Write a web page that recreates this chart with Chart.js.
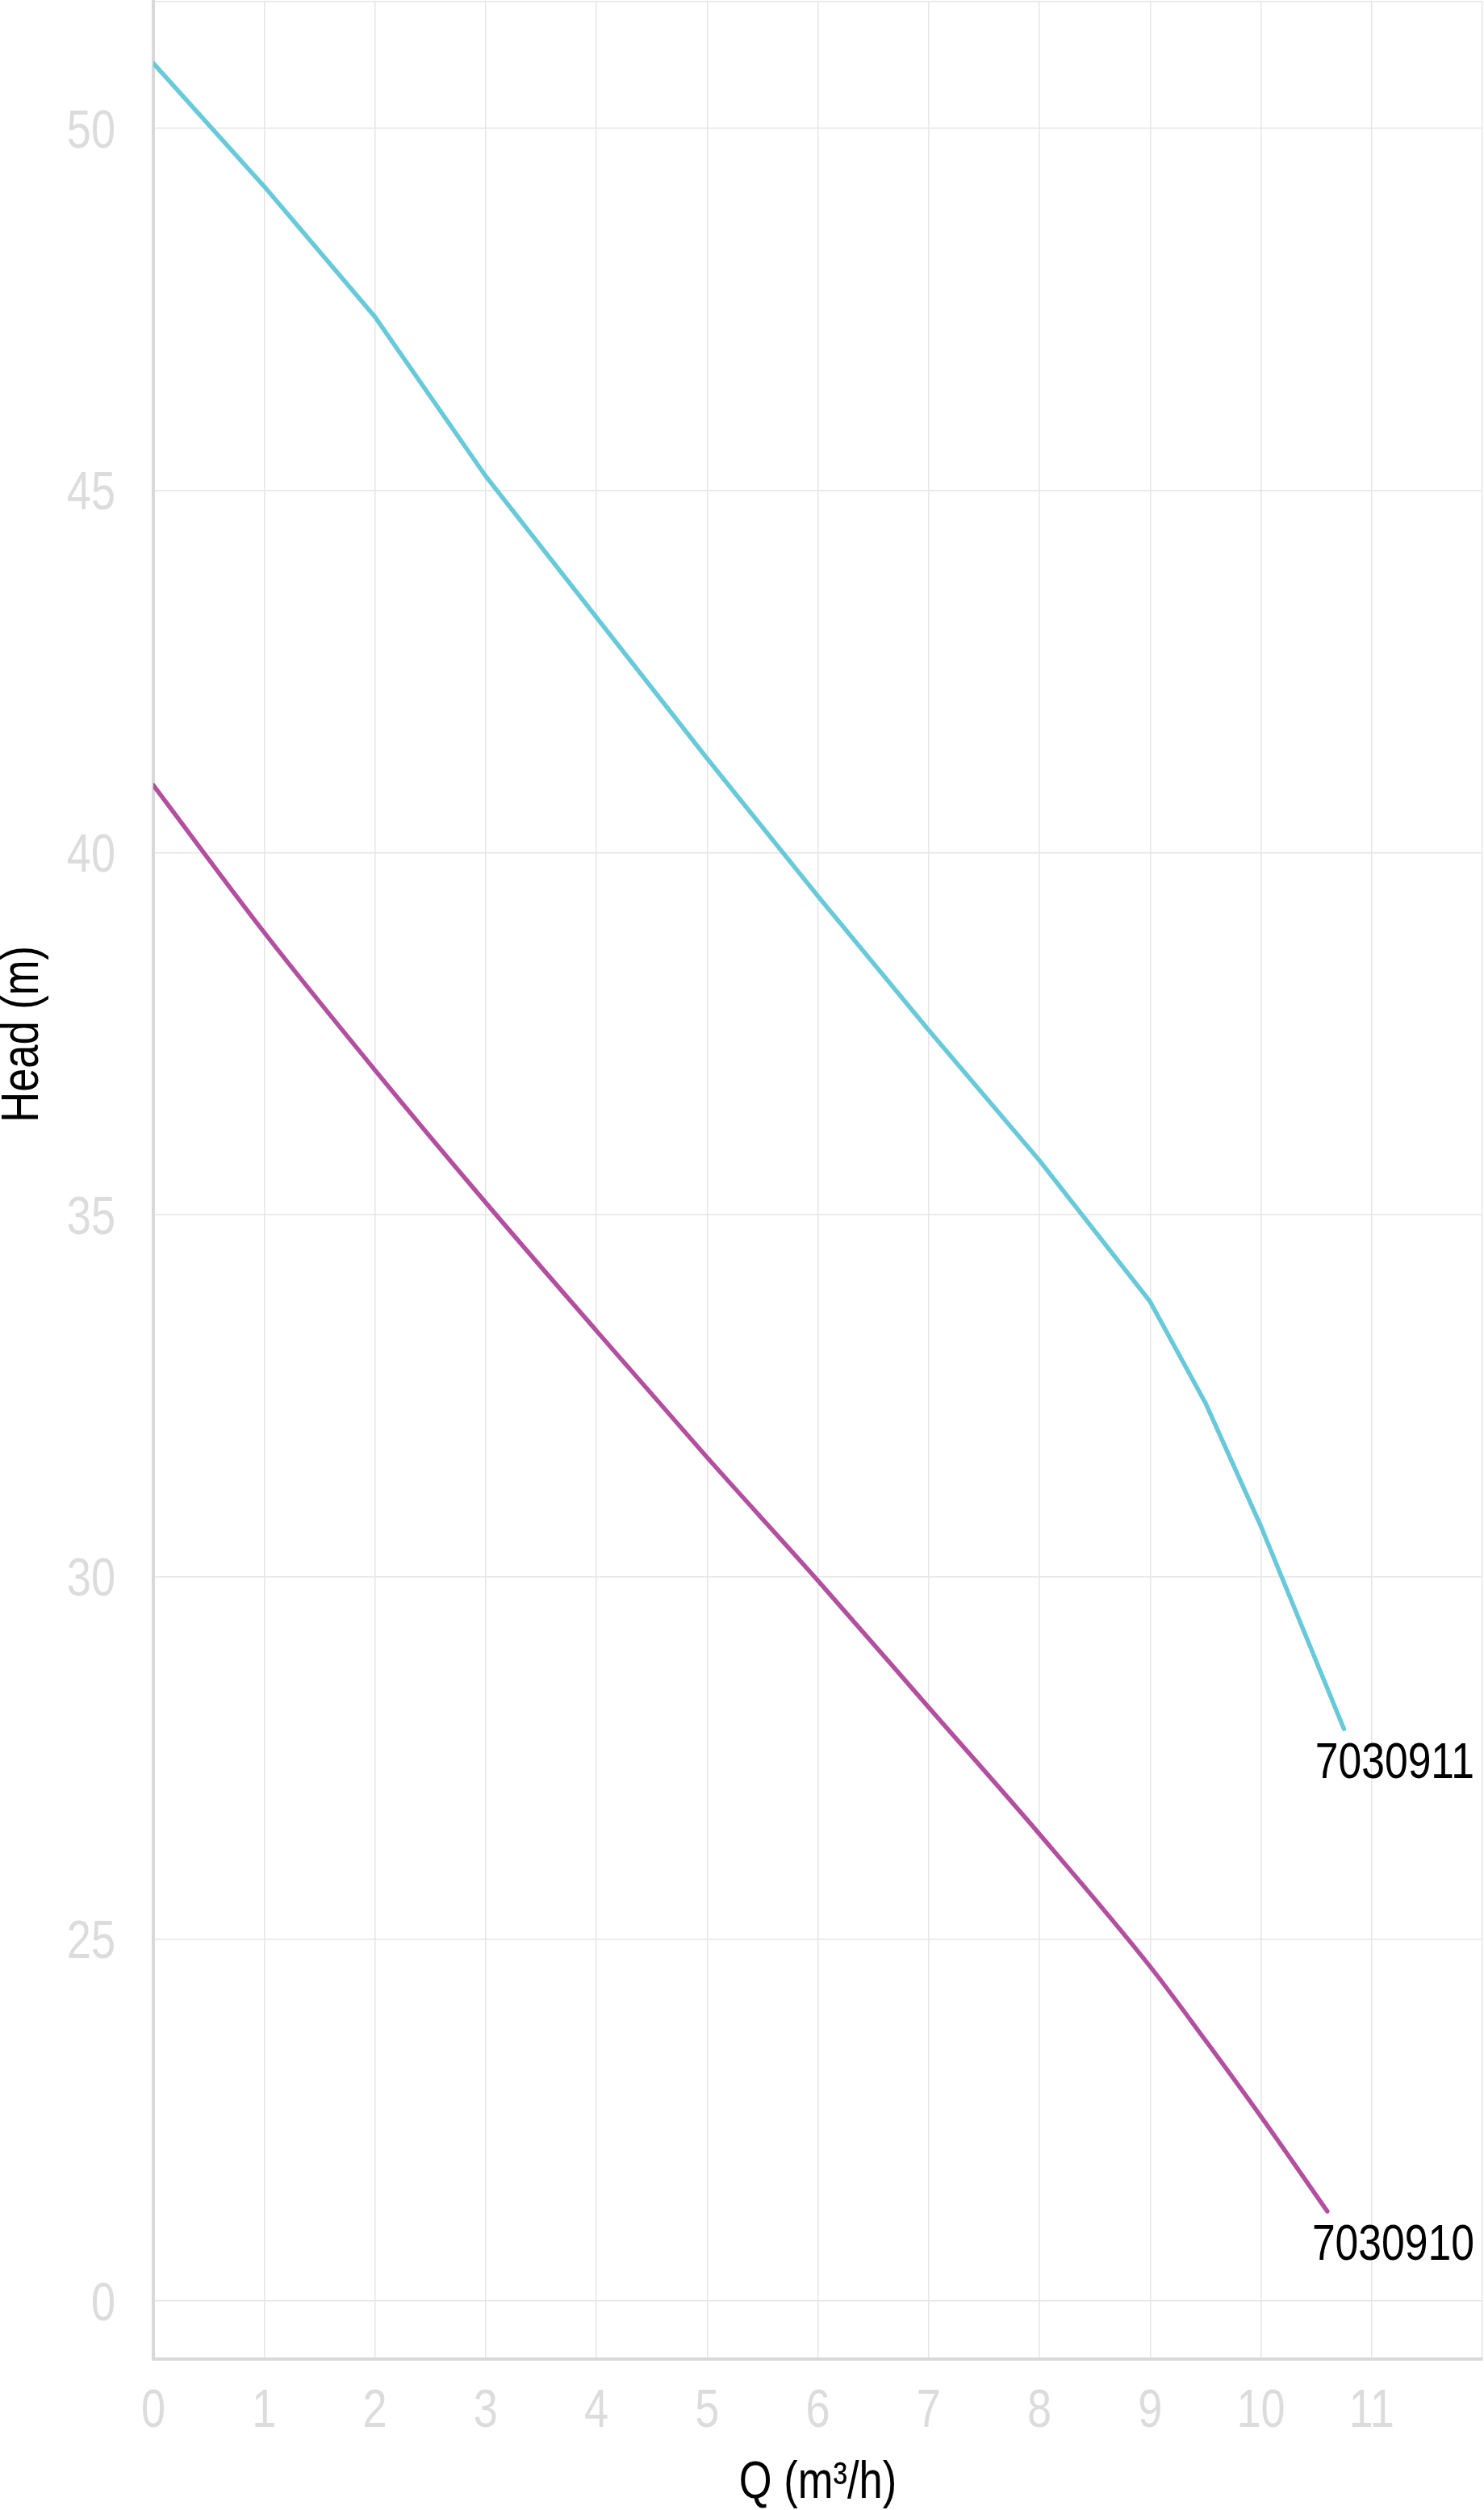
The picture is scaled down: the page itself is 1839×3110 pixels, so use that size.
<!DOCTYPE html>
<html>
<head>
<meta charset="utf-8">
<script src="https://cdn.jsdelivr.net/npm/chart.js@4.4.1/dist/chart.umd.min.js"></script>
<style>
  html, body { margin: 0; padding: 0; background: #fff; }
  #wrap { width: 1839px; height: 3110px; }
</style>
</head>
<body>
<div id="wrap"><canvas id="pump-chart" width="1839" height="3110"></canvas></div>
<script>
// flow Q (m3/h) and head (m)
const q911 = [0, 1, 2, 3, 4, 5, 6, 7, 8, 9, 9.5, 10, 10.75];
const head911 = [50.9, 49.2, 47.4, 45.2, 43.25, 41.3, 39.4, 37.55, 35.75, 33.8, 32.4, 30.7, 27.9];

const q910 = [0, 1, 2, 3, 4, 5, 6, 7, 8, 9, 9.5, 10, 10.6];
const head910 = [40.93, 38.9, 37.0, 35.17, 33.4, 31.65, 29.95, 28.2, 26.45, 24.62, 23.6, 22.55, 21.24];

const seriesNames = ['7030911', '7030910'];

// broken head axis: the lowest gridline is labelled 0
const yTickValues = [20, 25, 30, 35, 40, 45, 50];
const yTickLabels = ['0', '25', '30', '35', '40', '45', '50'];
const xTickLabels = ['0', '1', '2', '3', '4', '5', '6', '7', '8', '9', '10', '11'];
const xMax = 12;
const yMin = 19.2;
const yMax = 51.75;

(()=>{
    const ctx = document.getElementById('pump-chart');
    const FONT = "'Liberation Sans', Arial, sans-serif";
    const tickGrey = '#dcdcdc';
    const NARROW = 0.82; // arial narrow look

    // text squeezed horizontally, x/y is the anchor in page pixels
    const narrowText = (c, text, x, y, align) => {
        c.save();
        c.translate(x, y);
        c.scale(NARROW, 1);
        c.textAlign = align;
        c.fillText(text, 0, 0);
        c.restore();
    };

    const textPlugin = {
        id: 'narrowText',
        afterDraw(chart) {
            const c = chart.ctx;
            const area = chart.chartArea;
            const xs = chart.scales.x;
            const ys = chart.scales.y;

            // tick labels
            c.save();
            c.font = '66px ' + FONT;
            c.fillStyle = tickGrey;
            c.textBaseline = 'alphabetic';
            xs.ticks.forEach((t, i) => {
                if (xTickLabels[i] === undefined) return;
                narrowText(c, xTickLabels[i], xs.getPixelForValue(t.value), area.bottom + 84, 'center');
            });
            ys.ticks.forEach((t, i) => {
                if (yTickLabels[i] === undefined) return;
                narrowText(c, yTickLabels[i], area.left - 47, ys.getPixelForValue(t.value) + 23.5, 'right');
            });
            c.restore();

            // axis titles
            c.save();
            c.font = '64px ' + FONT;
            c.fillStyle = '#000';
            c.textBaseline = 'alphabetic';
            narrowText(c, 'Q (m³/h)', (area.left + area.right) / 2, area.bottom + 172, 'center');
            c.translate(47, area.top + (area.bottom - area.top) * 0.438);
            c.rotate(-Math.PI / 2);
            narrowText(c, 'Head (m)', 0, 0, 'center');
            c.restore();

            // curve names at the end of each curve
            c.save();
            c.font = '63px ' + FONT;
            c.fillStyle = '#000';
            c.textBaseline = 'alphabetic';
            chart.data.datasets.forEach((ds, i) => {
                const pts = chart.getDatasetMeta(i).data;
                const last = pts[pts.length - 1];
                narrowText(c, ds.label, area.right - 10, last.y + 38 + 22.5, 'right');
            });
            c.restore();
        }
    };

    new Chart(ctx, {
        type: 'line',
        data: {
            datasets: [
                {
                    label: seriesNames[0],
                    data: q911.map((x, i) => ({x: x, y: head911[i]})),
                    borderColor: '#68c9d9',
                    borderWidth: 5.5,
                    pointRadius: 0,
                    tension: 0,
                    borderCapStyle: 'round',
                    borderJoinStyle: 'round'
                },
                {
                    label: seriesNames[1],
                    data: q910.map((x, i) => ({x: x, y: head910[i]})),
                    borderColor: '#b2509f',
                    borderWidth: 5.5,
                    pointRadius: 0,
                    cubicInterpolationMode: 'monotone',
                    borderCapStyle: 'round',
                    borderJoinStyle: 'round'
                }
            ]
        },
        options: {
            responsive: false,
            devicePixelRatio: 1,
            animation: false,
            layout: { padding: { top: 2, right: 2, left: 0, bottom: 0 } },
            plugins: {
                legend: { display: false },
                tooltip: { enabled: false }
            },
            scales: {
                x: {
                    type: 'linear',
                    min: 0,
                    max: xMax,
                    grid: { color: '#e6e6e6', lineWidth: 1.5, drawTicks: false },
                    border: { color: '#d9d9d9', width: 4 },
                    ticks: { stepSize: 1, display: false },
                    afterFit: s => {
                        s.height = 187;
                        s.paddingLeft = 0;
                        s.paddingRight = 0;
                    }
                },
                y: {
                    type: 'linear',
                    min: yMin,
                    max: yMax,
                    grid: { color: '#e6e6e6', lineWidth: 1.5, drawTicks: false },
                    border: { color: '#d9d9d9', width: 4 },
                    afterBuildTicks: s => {
                        s.ticks = yTickValues.concat([yMax]).map(v => ({value: v}));
                    },
                    ticks: { display: false },
                    afterFit: s => {
                        s.width = 190;
                        s.paddingTop = 0;
                        s.paddingBottom = 0;
                    }
                }
            }
        },
        plugins: [textPlugin]
    });
})()
</script>
</body>
</html>
